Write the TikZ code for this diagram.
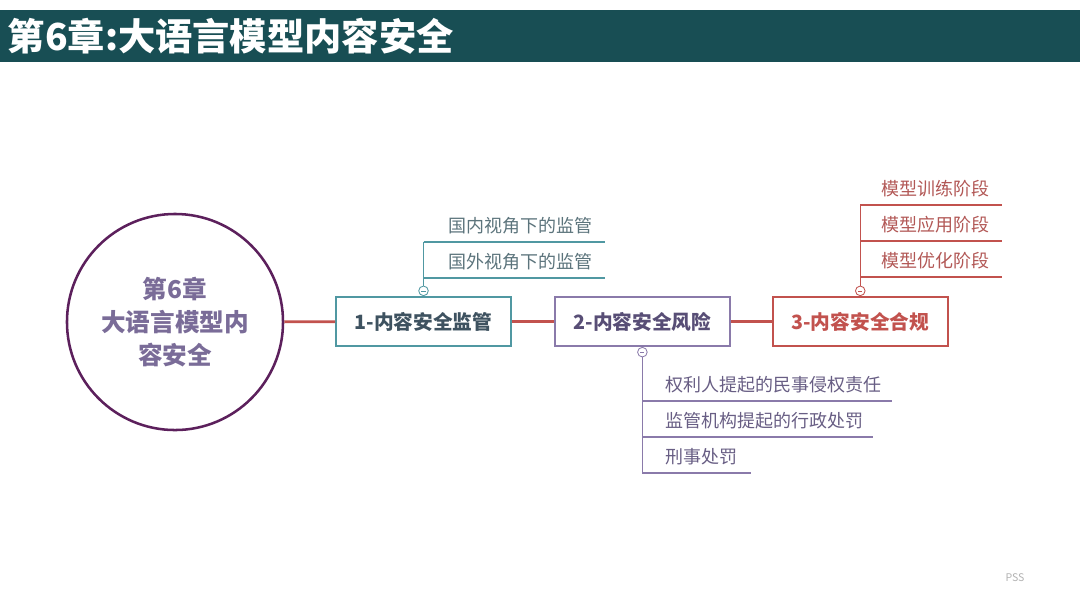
\documentclass[tikz,border=0pt]{standalone}
\usepackage{fontspec}
\setmainfont{Noto Sans CJK SC}
\usetikzlibrary{positioning}
\definecolor{titleteal}{RGB}{24,78,84}
\definecolor{branchteal}{RGB}{80,152,162}
\definecolor{regtext}{RGB}{62,82,96}
\definecolor{leafteal}{RGB}{92,116,124}
\definecolor{riskpurple}{RGB}{138,122,170}
\definecolor{risktext}{RGB}{88,78,118}
\definecolor{leafpurple}{RGB}{104,94,132}
\definecolor{compred}{RGB}{194,82,78}
\definecolor{leafred}{RGB}{178,88,86}
\definecolor{rootpurple}{RGB}{92,32,92}
\definecolor{roottext}{RGB}{122,108,152}
\tikzset{
    titlebar/.style={rectangle, fill=titleteal, text=white, align=left,
                     text width=26.6cm, inner xsep=0.2cm, minimum height=1.3cm,
                     font=\fontsize{26.5}{30}\selectfont\bfseries},
    root/.style={circle, draw=rootpurple, line width=1.8pt, minimum size=5.4cm,
                 inner sep=0pt, align=center, text=roottext,
                 font=\fontsize{17.5}{23.5}\selectfont\bfseries},
    topic/.style={rectangle, draw=#1, line width=1.3pt, fill=white,
                  minimum width=4.375cm, minimum height=1.225cm,
                  font=\fontsize{14}{17}\selectfont\bfseries},
    link/.style={draw=compred, line width=2pt},
    fold/.style={circle, draw=#1, fill=white, line width=0.6pt, inner sep=0pt,
                 minimum size=0.24cm,
                 path picture={\draw[#1, line width=0.5pt]
                   ([xshift=-1.5pt]path picture bounding box.center) --
                   ([xshift=1.5pt]path picture bounding box.center);}},
    branch/.style={draw=#1, line width=1.1pt},
    leaf/.style={anchor=west, inner sep=0pt, text=#1,
                 font=\fontsize{12.8}{15}\selectfont},
    pagemark/.style={text=black!30, font=\fontsize{7.5}{9}\selectfont}
}
\begin{document}
\begin{tikzpicture}[x=0.025cm, y=-0.025cm, node distance=1.05cm]
    \useasboundingbox (0,0) rectangle (1080,608);
    \node[titlebar] (title) at (540,36) {第6章:大语言模型内容安全};

    \node[root] (root) at (175,322) {第6章\\大语言模型内\\容安全};
    \node[topic=branchteal, text=regtext] (reg) at (423.5,321.5) {1-内容安全监管};
    \node[topic=riskpurple, text=risktext, right=of reg] (risk) {2-内容安全风险};
    \node[topic=compred, text=compred, right=1.025cm of risk] (comp) {3-内容安全合规};

    \draw[link] (root) -- (reg);
    \draw[link] (reg) -- (risk);
    \draw[link] (risk) -- (comp);

    % 1 - regulation
    \node[fold=branchteal, above=0pt of reg] (regfold) {};
    \foreach \lab/\ly [count=\i] in {国内视角下的监管/242, 国外视角下的监管/278} {
        \coordinate (regend\i) at (605,\ly);
        \draw[branch=branchteal] (regfold |- regend\i) -- (regend\i);
        \node[leaf=leafteal] (regleaf\i) at (448,\ly-16) {\lab};
    }
    \draw[branch=branchteal] (regfold) -- (regfold |- regend1);

    % 2 - risk
    \node[fold=riskpurple, below=0pt of risk] (riskfold) {};
    \foreach \lab/\ly/\lx [count=\i] in {权利人提起的民事侵权责任/401/892,
            监管机构提起的行政处罚/437/873, 刑事处罚/473/751} {
        \coordinate (riskend\i) at (\lx,\ly);
        \draw[branch=riskpurple] (riskfold |- riskend\i) -- (riskend\i);
        \node[leaf=leafpurple] (riskleaf\i) at (665,\ly-16) {\lab};
    }
    \draw[branch=riskpurple] (riskfold) -- (riskfold |- riskend3);

    % 3 - compliance
    \node[fold=compred, above=0pt of comp] (compfold) {};
    \foreach \lab/\ly [count=\i] in {模型训练阶段/205, 模型应用阶段/241, 模型优化阶段/277} {
        \coordinate (compend\i) at (1002,\ly);
        \draw[branch=compred] (compfold |- compend\i) -- (compend\i);
        \node[leaf=leafred] (compleaf\i) at (881,\ly-16) {\lab};
    }
    \draw[branch=compred] (compfold) -- (compfold |- compend1);

    \node[pagemark] (pss) at (1015,578) {PSS};
\end{tikzpicture}
\end{document}
